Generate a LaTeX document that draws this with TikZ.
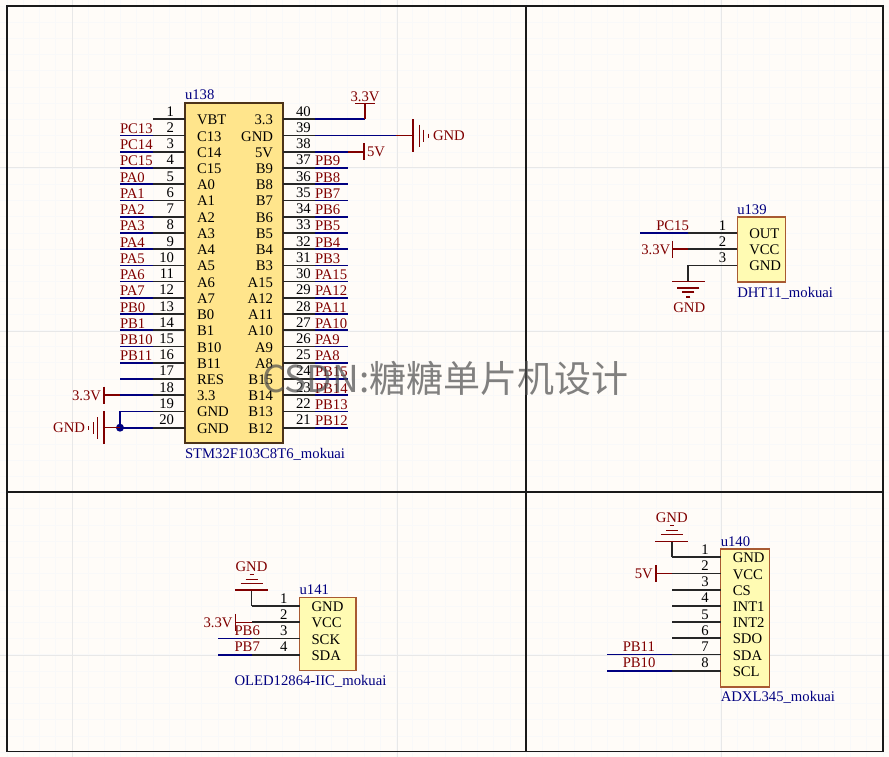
\documentclass[tikz,border=0pt]{standalone}
\usepackage{fontspec}
\setmainfont{Liberation Serif}
\newfontfamily\cjk{Noto Sans CJK SC}
\usepackage{xcolor}
\usetikzlibrary{calc, positioning}
\definecolor{sheet}{HTML}{FFFCF8}
\definecolor{wirecol}{HTML}{000080}
\definecolor{netcol}{HTML}{800000}
\definecolor{boxline}{HTML}{A85A32}
\tikzset{
  txt/.style={inner sep=0pt, outer sep=0pt, font=\fontsize{14.7}{15}\selectfont},
  pinnum/.style={txt, text=black, anchor=base east},
  pinnumr/.style={txt, text=black, anchor=base west},
  pinname/.style={txt, text=black, anchor=base west},
  pinnamer/.style={txt, text=black, anchor=base east},
  netlabel/.style={txt, text=netcol, anchor=base west},
  pwrlabel/.style={txt, text=netcol},
  partlabel/.style={txt, text=wirecol, anchor=base west},
  pinwire/.style={draw=black!85, line width=1.7pt},
  netwire/.style={draw=wirecol, line width=1.7pt},
  pwrwire/.style={draw=netcol, line width=1.5pt},
  icbox/.style={draw=boxline, line width=1.4pt, fill=yellow!30!white, inner sep=0pt, outer sep=0pt},
  gndsym/.pic={
    \draw[pwrwire] (-16.5,0) -- (16.5,0);
    \draw[pwrwire] (-11,-6.7) -- (11,-6.7);
    \draw[pwrwire] (-6,-10.7) -- (6,-10.7);
    \draw[pwrwire] (-2,-15.7) -- (2,-15.7);
  },
}
\begin{document}
\begin{tikzpicture}[x=1pt, y=-1pt]
  \useasboundingbox (0,0) rectangle (889,757);
  \fill[sheet] (0,0) rectangle (889,757);
  % grid
  \foreach \k in {0,...,54} {
    \draw[black!2.5, line width=0.8pt] ({7.1+16.22*\k},0) -- ({7.1+16.22*\k},757);
  }
  \foreach \k in {0,...,46} {
    \draw[black!2.5, line width=0.8pt] (0,{6+16.22*\k}) -- (889,{6+16.22*\k});
  }
  \foreach \k in {72,397,721} {
    \draw[black!9, line width=1pt] (\k,0) -- (\k,757);
  }
  \foreach \k in {168,331,655} {
    \draw[black!9, line width=1pt] (0,\k) -- (889,\k);
  }
  % sheet frame
  \coordinate (f1) at (7,6);
  \coordinate (f2) at (883,6);
  \coordinate (f3) at (883,751.5);
  \coordinate (f4) at (7,751.5);
  \draw[black!90, line width=1.5pt] (f1) -- (f2) -- (f3) -- (f4) -- cycle;
  \draw[black!90, line width=1.5pt] (526,6) -- (526,751.5);
  \draw[black!90, line width=1.5pt] (7,492) -- (883,492);

  % u138
  \node[icbox, fill=orange!45!yellow!45!white, draw=black!60!brown, minimum width=98pt, minimum height=340pt] (u138) at (234,273) {};
  \node[partlabel] (u138ref) at ($(u138.north west)+(0,-3)$) {u138};
  \node[partlabel] (u138val) at ($(u138.south west)+(0,15)$) {STM32F103C8T6\_mokuai};
  \foreach \num/\pname [count=\i from 0] in {1/VBT,2/C13,3/C14,4/C15,5/A0,6/A1,7/A2,8/A3,9/A4,10/A5,11/A6,12/A7,13/B0,14/B1,15/B10,16/B11,17/RES,18/3.3,19/GND,20/GND} {
    \coordinate (pa\num) at ($(u138.north west)+(0,16.3+16.23*\i)$);
    \coordinate (pb\num) at ($(pa\num)+(-32,0)$);
    \coordinate (pc\num) at ($(pa\num)+(-65,0)$);
    \draw[pinwire] (pa\num) -- (pb\num);
    \node[pinnum] (na\num) at ($(pa\num)+(-11,-3)$) {\num};
    \node[pinname] (ma\num) at ($(pa\num)+(12,5.5)$) {\pname};
  }
  \foreach \num/\nname in {2/PC13,3/PC14,4/PC15,5/PA0,6/PA1,7/PA2,8/PA3,9/PA4,10/PA5,11/PA6,12/PA7,13/PB0,14/PB1,15/PB10,16/PB11} {
    \draw[netwire] (pb\num) -- (pc\num);
    \node[netlabel] (la\num) at ($(pc\num)+(0,-2)$) {\nname};
  }
  \foreach \num in {17,18,19,20} {
    \draw[netwire] (pb\num) -- (pc\num);
  }
  \draw[netwire] (pc19) -- (pc20);
  \fill[wirecol] (pc20) circle (4pt);
  \foreach \num/\pname [count=\i from 0] in {40/3.3,39/GND,38/5V,37/B9,36/B8,35/B7,34/B6,33/B5,32/B4,31/B3,30/A15,29/A12,28/A11,27/A10,26/A9,25/A8,24/B15,23/B14,22/B13,21/B12} {
    \coordinate (pa\num) at ($(u138.north east)+(0,16.3+16.23*\i)$);
    \coordinate (pb\num) at ($(pa\num)+(32,0)$);
    \coordinate (pc\num) at ($(pa\num)+(65,0)$);
    \draw[pinwire] (pa\num) -- (pb\num);
    \node[pinnumr] (na\num) at ($(pa\num)+(13,-3)$) {\num};
    \node[pinnamer] (ma\num) at ($(pa\num)+(-10,5.5)$) {\pname};
  }
  \foreach \num/\nname in {37/PB9,36/PB8,35/PB7,34/PB6,33/PB5,32/PB4,31/PB3,30/PA15,29/PA12,28/PA11,27/PA10,26/PA9,25/PA8,24/PB15,23/PB14,22/PB13,21/PB12} {
    \draw[netwire] (pb\num) -- (pc\num);
    \node[netlabel] (la\num) at ($(pb\num)+(0,-2)$) {\nname};
  }
  % u138 power
  \coordinate (v40) at ($(pb40)+(50,0)$);
  \coordinate (v40t) at ($(v40)+(0,-16)$);
  \draw[netwire] (pb40) -- (v40);
  \draw[pwrwire] (v40) -- (v40t);
  \draw[pwrwire] ($(v40t)+(-10,0)$) -- ($(v40t)+(10,0)$);
  \node[pwrlabel, anchor=base] (v40l) at ($(v40t)+(0,-2)$) {3.3V};
  \coordinate (g39) at ($(pb39)+(81,0)$);
  \coordinate (g39t) at ($(g39)+(17,0)$);
  \draw[netwire] (pb39) -- (g39);
  \draw[pwrwire] (g39) -- (g39t);
  \pic[rotate=-90] at (g39t) {gndsym};
  \node[pwrlabel, anchor=base west] (g39l) at ($(g39t)+(20,5)$) {GND};
  \coordinate (v38) at ($(pc38)+(16,0)$);
  \draw[netwire] (pb38) -- (pc38);
  \draw[pwrwire] (pc38) -- (v38);
  \draw[pwrwire] ($(v38)+(0,-8.5)$) -- ($(v38)+(0,8.5)$);
  \node[pwrlabel, anchor=base west] (v38l) at ($(v38)+(3,5)$) {5V};
  \coordinate (v18) at ($(pc18)+(-16,0)$);
  \draw[pwrwire] (pc18) -- (v18);
  \draw[pwrwire] ($(v18)+(0,-8.5)$) -- ($(v18)+(0,8.5)$);
  \node[pwrlabel, anchor=base east] (v18l) at ($(v18)+(-3,5)$) {3.3V};
  \coordinate (g20) at ($(pc20)+(-16,0)$);
  \draw[pwrwire] (pc20) -- (g20);
  \pic[rotate=90] at (g20) {gndsym};
  \node[pwrlabel, anchor=base east] (g20l) at ($(g20)+(-19,5)$) {GND};

  % u139
  \node[icbox, minimum width=48.5pt, minimum height=65pt] (u139) at (761.5,249.5) {};
  \node[partlabel] (u139ref) at ($(u139.north west)+(0,-3)$) {u139};
  \node[partlabel] (u139val) at ($(u139.south west)+(0,15)$) {DHT11\_mokuai};
  \foreach \num/\pname [count=\i from 0] in {1/OUT,2/VCC,3/GND} {
    \coordinate (qa\num) at ($(u139.north west)+(0,16+16.2*\i)$);
    \coordinate (qb\num) at ($(qa\num)+(-49,0)$);
    \draw[pinwire] (qa\num) -- (qb\num);
    \node[pinnum] (qn\num) at ($(qa\num)+(-11,-3)$) {\num};
    \node[pinname] (qm\num) at ($(qa\num)+(12,5.5)$) {\pname};
  }
  \coordinate (qc1) at ($(qb1)+(-48,0)$);
  \draw[netwire] (qb1) -- (qc1);
  \node[netlabel] (ql1) at ($(qb1)+(-32,-3)$) {PC15};
  \coordinate (qv2) at ($(qb2)+(-16,0)$);
  \draw[pwrwire] (qb2) -- (qv2);
  \draw[pwrwire] ($(qv2)+(0,-8.5)$) -- ($(qv2)+(0,8.5)$);
  \node[pwrlabel, anchor=base east] (qv2l) at ($(qv2)+(-2,5)$) {3.3V};
  \coordinate (qg3) at ($(qb3)+(0,16)$);
  \draw[pinwire] (qb3) -- (qg3);
  \pic[rotate=180] at (qg3) {gndsym};
  \node[pwrlabel, anchor=base] (qg3l) at ($(qg3)+(1,31)$) {GND};

  % u141
  \node[icbox, minimum width=56.5pt, minimum height=73pt] (u141) at (327.8,634.2) {};
  \node[partlabel] (u141ref) at ($(u141.north west)+(0,-3)$) {u141};
  \node[partlabel] (u141val) at ($(u141.south west)+(-65,15)$) {OLED12864-IIC\_mokuai};
  \foreach \num/\pname [count=\i from 0] in {1/GND,2/VCC,3/SCK,4/SDA} {
    \coordinate (ra\num) at ($(u141.north west)+(0,8.3+16.3*\i)$);
    \coordinate (rb\num) at ($(ra\num)+(-48,0)$);
    \draw[pinwire] (ra\num) -- (rb\num);
    \node[pinnum] (rn\num) at ($(ra\num)+(-12,-3)$) {\num};
    \node[pinname] (rm\num) at ($(ra\num)+(12,5.5)$) {\pname};
  }
  \foreach \num/\nname in {3/PB6,4/PB7} {
    \coordinate (rc\num) at ($(rb\num)+(-34,0)$);
    \draw[netwire] (rb\num) -- (rc\num);
    \node[netlabel] (rl\num) at ($(rb\num)+(-17,-3)$) {\nname};
  }
  \coordinate (rg1) at ($(rb1)+(0,-16)$);
  \draw[pinwire] (rb1) -- (rg1);
  \pic at (rg1) {gndsym};
  \node[pwrlabel, anchor=base] (rg1l) at ($(rg1)+(0,-19)$) {GND};
  \coordinate (rv2) at ($(rb2)+(-16,0)$);
  \draw[pwrwire] (rb2) -- (rv2);
  \draw[pwrwire] ($(rv2)+(0,-8.5)$) -- ($(rv2)+(0,8.5)$);
  \node[pwrlabel, anchor=base east] (rv2l) at ($(rv2)+(-3,5)$) {3.3V};

  % u140
  \node[icbox, minimum width=48.5pt, minimum height=138pt] (u140) at (745,618) {};
  \node[partlabel] (u140ref) at ($(u140.north west)+(0,-3)$) {u140};
  \node[partlabel] (u140val) at ($(u140.south west)+(0,14)$) {ADXL345\_mokuai};
  \foreach \num/\pname [count=\i from 0] in {1/GND,2/VCC,3/CS,4/INT1,5/INT2,6/SDO,7/SDA,8/SCL} {
    \coordinate (sa\num) at ($(u140.north west)+(0,8.3+16.2*\i)$);
    \coordinate (sb\num) at ($(sa\num)+(-49,0)$);
    \draw[pinwire] (sa\num) -- (sb\num);
    \node[pinnum] (sn\num) at ($(sa\num)+(-12,-3)$) {\num};
    \node[pinname] (sm\num) at ($(sa\num)+(12,5.5)$) {\pname};
  }
  \foreach \num/\nname in {7/PB11,8/PB10} {
    \coordinate (sc\num) at ($(sb\num)+(-65,0)$);
    \draw[netwire] (sb\num) -- (sc\num);
    \node[netlabel] (sl\num) at ($(sb\num)+(-49,-3)$) {\nname};
  }
  \coordinate (sg1) at ($(sb1)+(0,-16)$);
  \draw[pinwire] (sb1) -- (sg1);
  \pic at (sg1) {gndsym};
  \node[pwrlabel, anchor=base] (sg1l) at ($(sg1)+(0,-19)$) {GND};
  \coordinate (sv2) at ($(sb2)+(-16,0)$);
  \draw[pwrwire] (sb2) -- (sv2);
  \draw[pwrwire] ($(sv2)+(0,-8.5)$) -- ($(sv2)+(0,8.5)$);
  \node[pwrlabel, anchor=base east] (sv2l) at ($(sv2)+(-3,5)$) {5V};

  % watermark
  \node[inner sep=0pt, anchor=west, text=black!70, opacity=0.7, font=\cjk\fontsize{37}{37}\selectfont] (mark) at (262,378) {CSDN:糖糖单片机设计};
\end{tikzpicture}
\end{document}
